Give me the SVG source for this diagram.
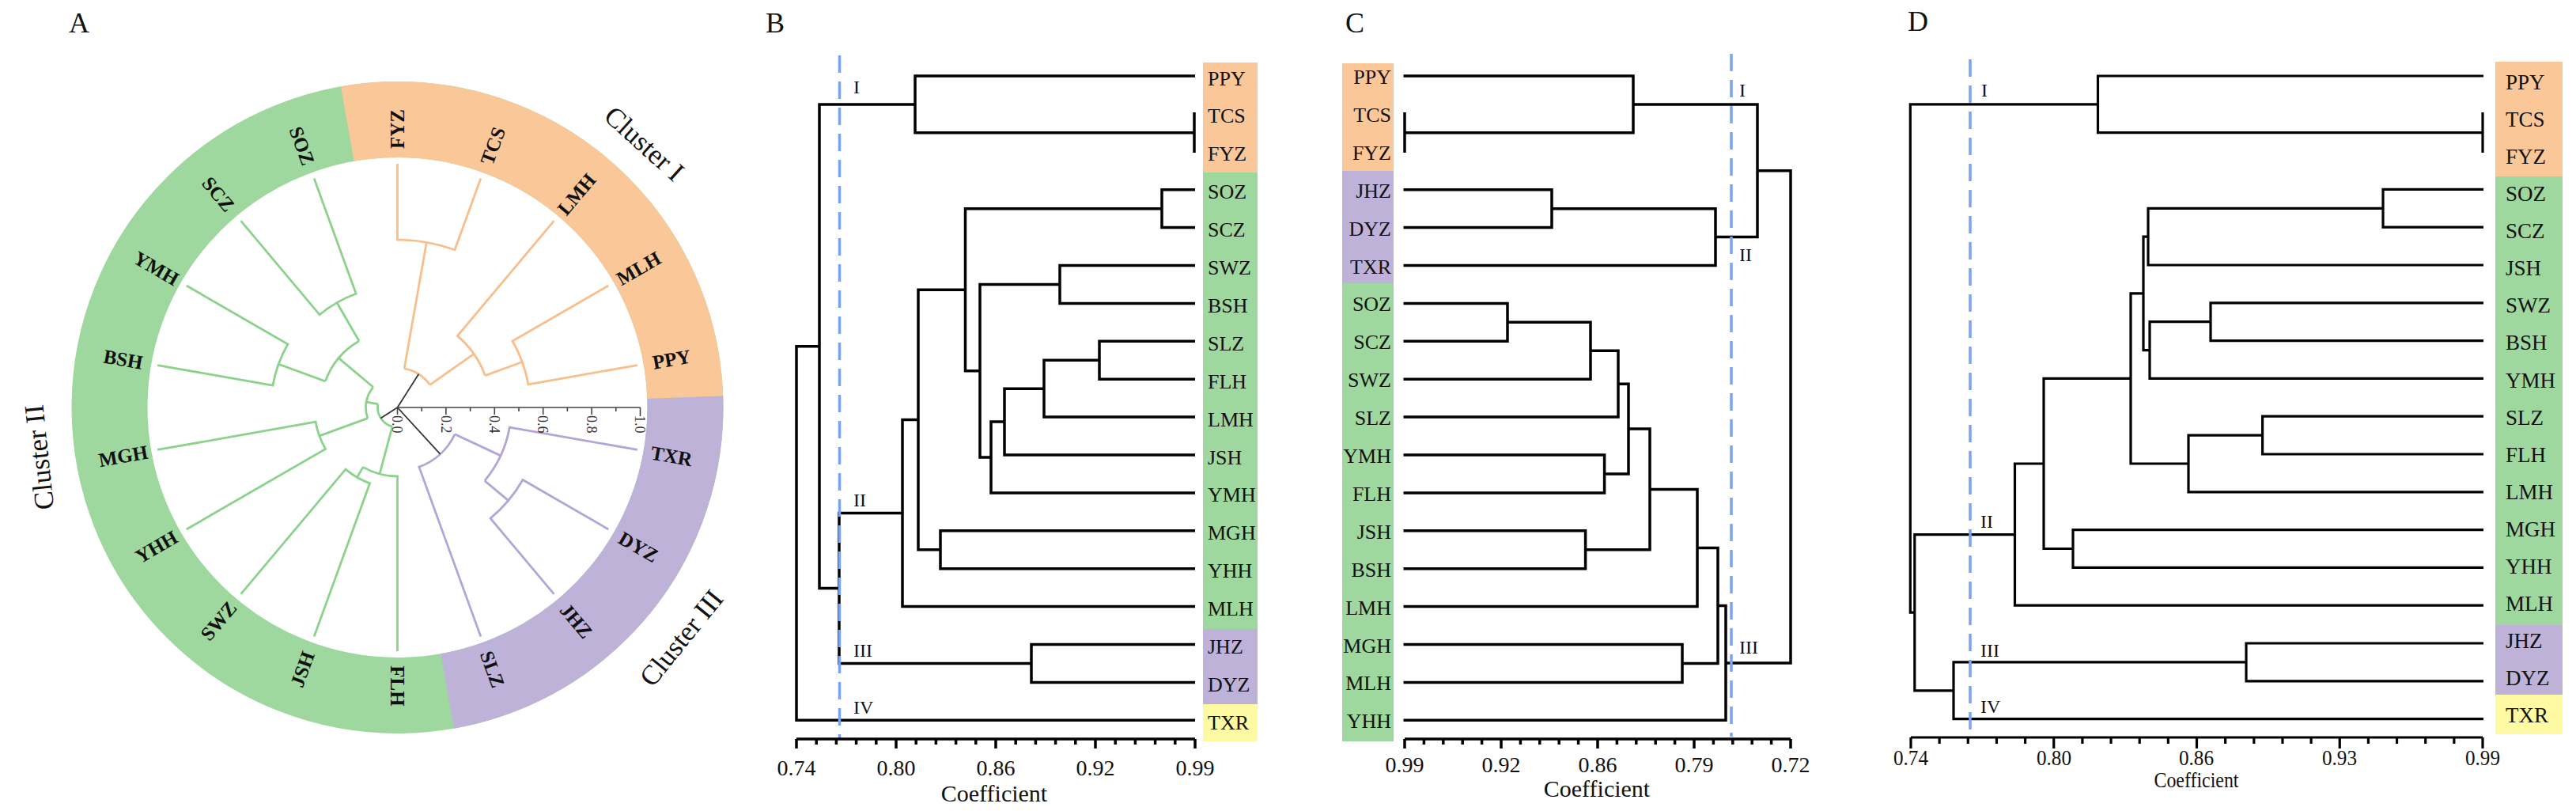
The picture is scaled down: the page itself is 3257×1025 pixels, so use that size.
<svg xmlns="http://www.w3.org/2000/svg" width="3257" height="1025" viewBox="0 0 3257 1025">
<style>
text{font-family:"Liberation Serif","Times New Roman",serif;fill:#111}
.plab{font-size:36px;text-anchor:middle}
.rl{font-size:25px;font-weight:bold;text-anchor:middle}
.cl{font-size:35px;text-anchor:middle}
.lb{font-size:26px}
.lc{font-size:26px;text-anchor:end}
.ld{font-size:27px}
.rn{font-size:24px}
.tk{font-size:28px;text-anchor:middle}
.tkd{font-size:27px;text-anchor:middle}
.ax{font-size:30px;text-anchor:middle}
.atk{font-size:18px;fill:#333}
.tree{fill:none;stroke:#000;stroke-width:3.5;stroke-linejoin:miter}
.treed{fill:none;stroke:#000;stroke-width:3.2}
.cut{fill:none;stroke:#7BA2F4;stroke-width:3.5;stroke-dasharray:22 11}
.og{fill:none;stroke:#F8BE8B;stroke-width:2.8}
.gg{fill:none;stroke:#8CD28D;stroke-width:2.8}
.pg{fill:none;stroke:#B3A5D6;stroke-width:2.8}
.blk{fill:none;stroke:#333;stroke-width:1.8}
.axis{fill:none;stroke:#000;stroke-width:3.5}
.aaxis{fill:none;stroke:#444;stroke-width:1.6}
</style>

<!-- Panel letters -->
<text class="plab" x="100" y="41">A</text>
<text class="plab" x="980" y="41">B</text>
<text class="plab" x="1713" y="41">C</text>
<text class="plab" x="2425" y="39">D</text>

<!-- ================= PANEL A ================= -->
<g id="panelA-ring">
  <circle cx="502.5" cy="515" r="364" fill="none" stroke="#9ED89E" stroke-width="96"/>
  <path d="M430.96 109.26 A412 412 0 0 1 914.25 500.62 L818.31 503.97 A316 316 0 0 0 447.63 203.8 Z" fill="#FAC898"/>
  <path d="M914.25 500.62 A412 412 0 0 1 574.04 920.74 L557.37 826.2 A316 316 0 0 0 818.31 503.97 Z" fill="#BEB2D8"/>
</g>

<g id="panelA-connectors">
  <g id="A-cluster1">
    <path class="og" d="M502.5 207 V303 A212 212 0 0 1 575.01 315.79 L607.84 225.58"/>
    <path class="og" d="M539.31 306.22 L511.18 465.76"/>
    <path class="og" d="M769.24 361 L647.99 431 A168 168 0 0 1 667.95 485.83 L805.82 461.52"/>
    <path class="og" d="M660.37 457.54 L613.38 474.64"/>
    <path class="og" d="M700.48 279.06 L578.35 424.61 A118 118 0 0 1 613.38 474.64"/>
    <path class="og" d="M599.16 447.32 L543.46 486.32"/>
    <path class="og" d="M511.18 465.76 A50 50 0 0 1 543.46 486.32"/>
  </g>
  <g id="A-cluster3">
    <path class="pg" d="M769.24 669 L660.98 606.5 A183 183 0 0 1 620.13 655.19 L700.48 750.94"/>
    <path class="pg" d="M642.69 632.63 L612.81 607.56"/>
    <path class="pg" d="M805.82 568.48 L644.31 540.01 A144 144 0 0 1 612.81 607.56"/>
    <path class="pg" d="M633.01 575.86 L575 548.81"/>
    <path class="pg" d="M575 548.81 A80 80 0 0 1 529.86 590.18 L607.84 804.42"/>
  </g>
  <g id="A-cluster2">
    <path class="gg" d="M397.16 804.42 L467.61 610.85 A102 102 0 0 1 436.94 593.14 L304.52 750.94"/>
    <path class="gg" d="M451.5 603.33 L459 590.34"/>
    <path class="gg" d="M502.5 823 V602 A87 87 0 0 1 459 590.34"/>
    <path class="gg" d="M479.98 599.04 L496.03 539.15"/>
    <path class="gg" d="M235.76 669 L411.57 567.5 A105 105 0 0 1 399.09 533.23 L199.18 568.48"/>
    <path class="gg" d="M403.83 550.91 L464.91 528.68"/>
    <path class="gg" d="M199.18 461.52 L344.93 487.22 A160 160 0 0 1 363.94 435 L235.76 361"/>
    <path class="gg" d="M352.15 460.28 L411.35 481.82"/>
    <path class="gg" d="M304.52 279.06 L404.15 397.79 A153 153 0 0 1 450.17 371.23 L397.16 225.58"/>
    <path class="gg" d="M426 382.5 L454 431"/>
    <path class="gg" d="M411.35 481.82 A97 97 0 0 1 454 431"/>
    <path class="gg" d="M428.19 452.65 L471.86 489.29"/>
    <path class="gg" d="M464.91 528.68 A40 40 0 0 1 471.86 489.29"/>
    <path class="gg" d="M463.11 508.05 L477.88 510.66"/>
    <path class="gg" d="M496.03 539.15 A25 25 0 0 1 477.88 510.66"/>
  </g>
  <path class="blk" d="M502.5 515 L529.37 472.83 M502.5 515 L556.55 573.98 M502.5 515 L481.42 528.43"/>
</g>

<g id="panelA-axis">
  <path class="aaxis" d="M502.5 515 H809.5 M502.5 515 V524 M533.2 515 V520 M563.9 515 V524 M594.6 515 V520 M625.3 515 V524 M656 515 V520 M686.7 515 V524 M717.4 515 V520 M748.1 515 V524 M778.8 515 V520 M809.5 515 V526"/>
  <text class="atk" transform="translate(502.5,525) rotate(90)" dy=".35em">0.0</text>
  <text class="atk" transform="translate(563.9,525) rotate(90)" dy=".35em">0.2</text>
  <text class="atk" transform="translate(625.3,525) rotate(90)" dy=".35em">0.4</text>
  <text class="atk" transform="translate(686.7,525) rotate(90)" dy=".35em">0.6</text>
  <text class="atk" transform="translate(748.1,525) rotate(90)" dy=".35em">0.8</text>
  <text class="atk" transform="translate(809.5,525) rotate(90)" dy=".35em">1.0</text>
</g>

<g id="panelA-nodes">
  <g id="A-FYZ"><text class="rl" transform="translate(502.5,163) rotate(-90)" dy=".35em">FYZ</text></g>
  <g id="A-TCS"><text class="rl" transform="translate(622.89,184.23) rotate(-70)" dy=".35em">TCS</text></g>
  <g id="A-LMH"><text class="rl" transform="translate(728.76,245.35) rotate(-50)" dy=".35em">LMH</text></g>
  <g id="A-MLH"><text class="rl" transform="translate(807.34,339) rotate(-30)" dy=".35em">MLH</text></g>
  <g id="A-PPY"><text class="rl" transform="translate(849.15,453.88) rotate(-10)" dy=".35em">PPY</text></g>
  <g id="A-TXR"><text class="rl" transform="translate(849.15,576.12) rotate(10)" dy=".35em">TXR</text></g>
  <g id="A-DYZ"><text class="rl" transform="translate(807.34,691) rotate(30)" dy=".35em">DYZ</text></g>
  <g id="A-JHZ"><text class="rl" transform="translate(728.76,784.65) rotate(50)" dy=".35em">JHZ</text></g>
  <g id="A-SLZ"><text class="rl" transform="translate(622.89,845.77) rotate(70)" dy=".35em">SLZ</text></g>
  <g id="A-FLH"><text class="rl" transform="translate(502.5,867) rotate(90)" dy=".35em">FLH</text></g>
  <g id="A-JSH"><text class="rl" transform="translate(382.11,845.77) rotate(-70)" dy=".35em">JSH</text></g>
  <g id="A-SWZ"><text class="rl" transform="translate(276.24,784.65) rotate(-50)" dy=".35em">SWZ</text></g>
  <g id="A-YHH"><text class="rl" transform="translate(197.66,691) rotate(-30)" dy=".35em">YHH</text></g>
  <g id="A-MGH"><text class="rl" transform="translate(155.85,576.12) rotate(-10)" dy=".35em">MGH</text></g>
  <g id="A-BSH"><text class="rl" transform="translate(155.85,453.88) rotate(10)" dy=".35em">BSH</text></g>
  <g id="A-YMH"><text class="rl" transform="translate(197.66,339) rotate(30)" dy=".35em">YMH</text></g>
  <g id="A-SCZ"><text class="rl" transform="translate(276.24,245.35) rotate(50)" dy=".35em">SCZ</text></g>
  <g id="A-SOZ"><text class="rl" transform="translate(382.11,184.23) rotate(70)" dy=".35em">SOZ</text></g>
  <g id="A-cl1"><text class="cl" transform="translate(815,181) rotate(42)" dy=".35em">Cluster I</text></g>
  <g id="A-cl2"><text class="cl" transform="translate(49,578) rotate(-96)" dy=".35em">Cluster II</text></g>
  <g id="A-cl3"><text class="cl" transform="translate(861,806) rotate(-51)" dy=".35em">Cluster III</text></g>
</g>

<!-- ================= PANEL B ================= -->
<g id="panelB-bands">
  <rect x="1521" y="79" width="69" height="139" fill="#FAC898"/>
  <rect x="1521" y="218" width="69" height="577" fill="#9ED89E"/>
  <rect x="1521" y="795" width="69" height="95" fill="#BEB2D8"/>
  <rect x="1521" y="890" width="69" height="47" fill="#FEFAA4"/>
</g>
<g id="panelB-connectors">
  <path class="tree" d="M1511 96 H1157 V167.85 H1510 M1510 142 V193"/>
  <path class="tree" d="M1511 239.7 H1469 V287.6 H1511"/>
  <path class="tree" d="M1511 335.5 H1340 V383.4 H1511"/>
  <path class="tree" d="M1511 431.3 H1390 V479.2 H1511"/>
  <path class="tree" d="M1390 455.25 H1320 V527.1 H1511"/>
  <path class="tree" d="M1320 491.2 H1270 V575 H1511"/>
  <path class="tree" d="M1270 533.1 H1253 V622.9 H1511"/>
  <path class="tree" d="M1340 359.45 H1239 V578 H1253"/>
  <path class="tree" d="M1469 263.65 H1220.5 V468.7 H1239"/>
  <path class="tree" d="M1511 670.8 H1189 V718.7 H1511"/>
  <path class="tree" d="M1220.5 366.2 H1161 V694.75 H1189"/>
  <path class="tree" d="M1161 530.5 H1141 V766.6 H1511"/>
  <path class="tree" d="M1511 814.5 H1304 V862.4 H1511"/>
  <path class="tree" d="M1141 648.5 H1061 V838.45 H1304"/>
  <path class="tree" d="M1157 131.9 H1036 V743.5 H1061"/>
  <path class="tree" d="M1036 437.7 H1007 V910.3 H1511"/>
  <path class="cut" d="M1061.5 70 V933"/>
</g>
<g id="panelB-nodes">
  <g id="B-PPY"><text class="lb" x="1527" y="107.5">PPY</text></g>
  <g id="B-TCS"><text class="lb" x="1527" y="155.4">TCS</text></g>
  <g id="B-FYZ"><text class="lb" x="1527" y="203.3">FYZ</text></g>
  <g id="B-SOZ"><text class="lb" x="1527" y="251.2">SOZ</text></g>
  <g id="B-SCZ"><text class="lb" x="1527" y="299.1">SCZ</text></g>
  <g id="B-SWZ"><text class="lb" x="1527" y="347">SWZ</text></g>
  <g id="B-BSH"><text class="lb" x="1527" y="394.9">BSH</text></g>
  <g id="B-SLZ"><text class="lb" x="1527" y="442.8">SLZ</text></g>
  <g id="B-FLH"><text class="lb" x="1527" y="490.7">FLH</text></g>
  <g id="B-LMH"><text class="lb" x="1527" y="538.6">LMH</text></g>
  <g id="B-JSH"><text class="lb" x="1527" y="586.5">JSH</text></g>
  <g id="B-YMH"><text class="lb" x="1527" y="634.4">YMH</text></g>
  <g id="B-MGH"><text class="lb" x="1527" y="682.3">MGH</text></g>
  <g id="B-YHH"><text class="lb" x="1527" y="730.2">YHH</text></g>
  <g id="B-MLH"><text class="lb" x="1527" y="778.1">MLH</text></g>
  <g id="B-JHZ"><text class="lb" x="1527" y="826">JHZ</text></g>
  <g id="B-DYZ"><text class="lb" x="1527" y="873.9">DYZ</text></g>
  <g id="B-TXR"><text class="lb" x="1527" y="921.8">TXR</text></g>
  <text class="rn" x="1079" y="118">I</text>
  <text class="rn" x="1079" y="640">II</text>
  <text class="rn" x="1079" y="830">III</text>
  <text class="rn" x="1079" y="902">IV</text>
</g>
<g id="panelB-axis">
  <path class="axis" d="M1007 934 H1511"/>
  <path class="axis" d="M1007 934 V946 M1032.2 934 V941 M1057.4 934 V941 M1082.6 934 V941 M1107.8 934 V941 M1133 934 V946 M1158.2 934 V941 M1183.4 934 V941 M1208.6 934 V941 M1233.8 934 V941 M1259 934 V946 M1284.2 934 V941 M1309.4 934 V941 M1334.6 934 V941 M1359.8 934 V941 M1385 934 V946 M1410.2 934 V941 M1435.4 934 V941 M1460.6 934 V941 M1485.8 934 V941 M1511 934 V946"/>
  <text class="tk" x="1007" y="980">0.74</text>
  <text class="tk" x="1133" y="980">0.80</text>
  <text class="tk" x="1259" y="980">0.86</text>
  <text class="tk" x="1385" y="980">0.92</text>
  <text class="tk" x="1511" y="980">0.99</text>
  <text class="ax" x="1257" y="1013">Coefficient</text>
</g>

<!-- ================= PANEL C ================= -->
<g id="panelC-bands">
  <rect x="1697" y="80" width="65" height="136" fill="#FAC898"/>
  <rect x="1697" y="216" width="65" height="142" fill="#BEB2D8"/>
  <rect x="1697" y="358" width="65" height="579" fill="#9ED89E"/>
</g>
<g id="panelC-connectors">
  <path class="tree" d="M1774.5 96 H2065 V167.85 H1776 M1776 142 V193"/>
  <path class="tree" d="M1774.5 239.7 H1962 V287.6 H1774.5"/>
  <path class="tree" d="M1962 263.65 H2169 V335.5 H1774.5"/>
  <path class="tree" d="M2065 131.9 H2222 V299.6 H2169"/>
  <path class="tree" d="M1774.5 383.4 H1906 V431.3 H1774.5"/>
  <path class="tree" d="M1906 407.35 H2011 V479.2 H1774.5"/>
  <path class="tree" d="M2011 443.3 H2046 V527.1 H1774.5"/>
  <path class="tree" d="M1774.5 575 H2028.6 V622.9 H1774.5"/>
  <path class="tree" d="M2046 485.2 H2059 V598.95 H2028.6"/>
  <path class="tree" d="M1774.5 670.8 H2004.6 V718.7 H1774.5"/>
  <path class="tree" d="M2059 542.1 H2086 V694.75 H2004.6"/>
  <path class="tree" d="M2086 618.4 H2146 V766.6 H1774.5"/>
  <path class="tree" d="M1774.5 814.5 H2127 V862.4 H1774.5"/>
  <path class="tree" d="M2146 692.5 H2172 V838.45 H2127"/>
  <path class="tree" d="M2172 765.5 H2182 V910.3 H1774.5"/>
  <path class="tree" d="M2222 215.75 H2264 V837.9 H2182"/>
  <path class="cut" d="M2189 68 V931"/>
</g>
<g id="panelC-nodes">
  <g id="C-PPY"><text class="lc" x="1759" y="106">PPY</text></g>
  <g id="C-TCS"><text class="lc" x="1759" y="153.9">TCS</text></g>
  <g id="C-FYZ"><text class="lc" x="1759" y="201.8">FYZ</text></g>
  <g id="C-JHZ"><text class="lc" x="1759" y="249.7">JHZ</text></g>
  <g id="C-DYZ"><text class="lc" x="1759" y="297.6">DYZ</text></g>
  <g id="C-TXR"><text class="lc" x="1759" y="345.5">TXR</text></g>
  <g id="C-SOZ"><text class="lc" x="1759" y="393.4">SOZ</text></g>
  <g id="C-SCZ"><text class="lc" x="1759" y="441.3">SCZ</text></g>
  <g id="C-SWZ"><text class="lc" x="1759" y="489.2">SWZ</text></g>
  <g id="C-SLZ"><text class="lc" x="1759" y="537.1">SLZ</text></g>
  <g id="C-YMH"><text class="lc" x="1759" y="585">YMH</text></g>
  <g id="C-FLH"><text class="lc" x="1759" y="632.9">FLH</text></g>
  <g id="C-JSH"><text class="lc" x="1759" y="680.8">JSH</text></g>
  <g id="C-BSH"><text class="lc" x="1759" y="728.7">BSH</text></g>
  <g id="C-LMH"><text class="lc" x="1759" y="776.6">LMH</text></g>
  <g id="C-MGH"><text class="lc" x="1759" y="824.5">MGH</text></g>
  <g id="C-MLH"><text class="lc" x="1759" y="872.4">MLH</text></g>
  <g id="C-YHH"><text class="lc" x="1759" y="920.3">YHH</text></g>
  <text class="rn" x="2199" y="122">I</text>
  <text class="rn" x="2199" y="330">II</text>
  <text class="rn" x="2199" y="826">III</text>
</g>
<g id="panelC-axis">
  <path class="axis" d="M1776 934 H2264"/>
  <path class="axis" d="M1776 934 V946 M1800.4 934 V941 M1824.8 934 V941 M1849.2 934 V941 M1873.6 934 V941 M1898 934 V946 M1922.4 934 V941 M1946.8 934 V941 M1971.2 934 V941 M1995.6 934 V941 M2020 934 V946 M2044.4 934 V941 M2068.8 934 V941 M2093.2 934 V941 M2117.6 934 V941 M2142 934 V946 M2166.4 934 V941 M2190.8 934 V941 M2215.2 934 V941 M2239.6 934 V941 M2264 934 V946"/>
  <text class="tk" x="1776" y="976">0.99</text>
  <text class="tk" x="1898" y="976">0.92</text>
  <text class="tk" x="2020" y="976">0.86</text>
  <text class="tk" x="2142" y="976">0.79</text>
  <text class="tk" x="2264" y="976">0.72</text>
  <text class="ax" x="2019" y="1007">Coefficient</text>
</g>

<!-- ================= PANEL D ================= -->
<g id="panelD-bands">
  <rect x="3155" y="78" width="85" height="145" fill="#FAC898"/>
  <rect x="3155" y="223" width="85" height="567" fill="#9ED89E"/>
  <rect x="3155" y="790" width="85" height="88" fill="#BEB2D8"/>
  <rect x="3155" y="878" width="85" height="50" fill="#FEFAA4"/>
</g>
<g id="panelD-connectors">
  <path class="treed" d="M3140 96 H2652.5 V167.7 H3139 M3139 142 V193"/>
  <path class="treed" d="M3140 239.4 H3013 V287.2 H3140"/>
  <path class="treed" d="M3013 263.3 H2716 V335 H3140"/>
  <path class="treed" d="M3140 382.8 H2795 V430.6 H3140"/>
  <path class="treed" d="M2795 406.7 H2718 V478.4 H3140"/>
  <path class="treed" d="M2716 299.2 H2710 V442.6 H2718"/>
  <path class="treed" d="M3140 526.2 H2860.6 V574 H3140"/>
  <path class="treed" d="M2860.6 550.1 H2767 V621.8 H3140"/>
  <path class="treed" d="M2710 370.9 H2694 V586 H2767"/>
  <path class="treed" d="M3140 669.6 H2621 V717.4 H3140"/>
  <path class="treed" d="M2694 478.4 H2584 V693.5 H2621"/>
  <path class="treed" d="M2584 586 H2547.5 V765.2 H3140"/>
  <path class="treed" d="M3140 813 H2840 V860.8 H3140"/>
  <path class="treed" d="M2840 836.9 H2470 V908.6 H3140"/>
  <path class="treed" d="M2547.5 675.6 H2420.8 V872.8 H2470"/>
  <path class="treed" d="M2652.5 131.9 H2415.3 V774.2 H2420.8"/>
  <path class="cut" d="M2491 75 V931"/>
</g>
<g id="panelD-nodes">
  <g id="D-PPY"><text class="ld" x="3168" y="113">PPY</text></g>
  <g id="D-TCS"><text class="ld" x="3168" y="160.1">TCS</text></g>
  <g id="D-FYZ"><text class="ld" x="3168" y="207.1">FYZ</text></g>
  <g id="D-SOZ"><text class="ld" x="3168" y="254.2">SOZ</text></g>
  <g id="D-SCZ"><text class="ld" x="3168" y="301.2">SCZ</text></g>
  <g id="D-JSH"><text class="ld" x="3168" y="348.3">JSH</text></g>
  <g id="D-SWZ"><text class="ld" x="3168" y="395.4">SWZ</text></g>
  <g id="D-BSH"><text class="ld" x="3168" y="442.4">BSH</text></g>
  <g id="D-YMH"><text class="ld" x="3168" y="489.5">YMH</text></g>
  <g id="D-SLZ"><text class="ld" x="3168" y="536.5">SLZ</text></g>
  <g id="D-FLH"><text class="ld" x="3168" y="583.6">FLH</text></g>
  <g id="D-LMH"><text class="ld" x="3168" y="630.7">LMH</text></g>
  <g id="D-MGH"><text class="ld" x="3168" y="677.7">MGH</text></g>
  <g id="D-YHH"><text class="ld" x="3168" y="724.8">YHH</text></g>
  <g id="D-MLH"><text class="ld" x="3168" y="771.8">MLH</text></g>
  <g id="D-JHZ"><text class="ld" x="3168" y="818.9">JHZ</text></g>
  <g id="D-DYZ"><text class="ld" x="3168" y="866">DYZ</text></g>
  <g id="D-TXR"><text class="ld" x="3168" y="913">TXR</text></g>
  <text class="rn" x="2505" y="122">I</text>
  <text class="rn" x="2504" y="667">II</text>
  <text class="rn" x="2504" y="830">III</text>
  <text class="rn" x="2504" y="901">IV</text>
</g>
<g id="panelD-axis">
  <path class="treed" d="M2416 932 H3139"/>
  <path class="treed" d="M2416 932 V946 M2452.15 932 V940 M2488.3 932 V940 M2524.45 932 V940 M2560.6 932 V940 M2596.75 932 V946 M2632.9 932 V940 M2669.05 932 V940 M2705.2 932 V940 M2741.35 932 V940 M2777.5 932 V946 M2813.65 932 V940 M2849.8 932 V940 M2885.95 932 V940 M2922.1 932 V940 M2958.25 932 V946 M2994.4 932 V940 M3030.55 932 V940 M3066.7 932 V940 M3102.85 932 V940 M3139 932 V946"/>
  <text class="tkd" x="2416" y="967" textLength="44" lengthAdjust="spacingAndGlyphs">0.74</text>
  <text class="tkd" x="2597" y="967" textLength="44" lengthAdjust="spacingAndGlyphs">0.80</text>
  <text class="tkd" x="2777" y="967" textLength="44" lengthAdjust="spacingAndGlyphs">0.86</text>
  <text class="tkd" x="2958" y="967" textLength="44" lengthAdjust="spacingAndGlyphs">0.93</text>
  <text class="tkd" x="3139" y="967" textLength="44" lengthAdjust="spacingAndGlyphs">0.99</text>
  <text class="tkd" x="2777" y="995" textLength="107" lengthAdjust="spacingAndGlyphs">Coefficient</text>
</g>
</svg>
